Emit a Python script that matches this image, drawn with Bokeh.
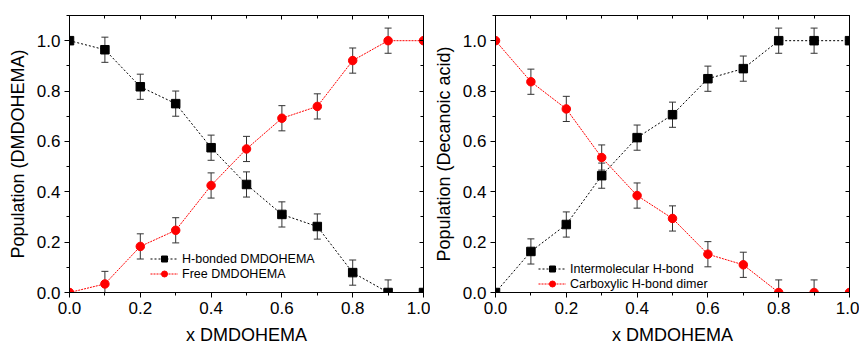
from bokeh.plotting import figure
from bokeh.layouts import row
from bokeh.models import (ColumnDataSource, Whisker, TeeHead, LinearAxis, SingleIntervalTicker,
                          PrintfTickFormatter, Range1d, Legend, LegendItem)
from bokeh.embed import file_html
from bokeh.resources import INLINE

x_vals = [0.0, 0.1, 0.2, 0.3, 0.4, 0.5, 0.6, 0.7, 0.8, 0.9, 1.0]

# Left panel: DMDOHEMA populations
hbonded = [1.0, 0.964, 0.817, 0.750, 0.575, 0.429, 0.310, 0.262, 0.079, 0.0, 0.0]
free = [0.0, 0.034, 0.183, 0.247, 0.425, 0.570, 0.692, 0.739, 0.921, 1.0, 1.0]
hbonded_err = [0, 0.05, 0.05, 0.05, 0.05, 0.05, 0.05, 0.05, 0.05, 0.05, 0]
free_err = [0, 0.05, 0.05, 0.05, 0.05, 0.05, 0.05, 0.05, 0.05, 0.05, 0]

# Right panel: Decanoic acid populations
intermolecular = [0.0, 0.163, 0.270, 0.464, 0.615, 0.706, 0.849, 0.889, 1.0, 1.0, 1.0]
carboxylic = [1.0, 0.837, 0.729, 0.536, 0.385, 0.294, 0.152, 0.110, 0.0, 0.0, 0.0]
intermolecular_err = [0, 0.05, 0.05, 0.05, 0.05, 0.05, 0.05, 0.05, 0.05, 0.05, 0]
carboxylic_err = [0, 0.05, 0.05, 0.05, 0.05, 0.05, 0.05, 0.05, 0.05, 0.05, 0]

x_title = "x DMDOHEMA"
left_ytitle = "Population (DMDOHEMA)"
right_ytitle = "Population (Decanoic acid)"
left_labels = ["H-bonded DMDOHEMA", "Free DMDOHEMA"]
right_labels = ["Intermolecular H-bond", "Carboxylic H-bond dimer"]

FONT = "Liberation Sans"
ERR_COLOR = "#333333"


def style_axis(ax, mirror=False):
    ax.ticker = SingleIntervalTicker(interval=0.2, num_minor_ticks=2)
    ax.axis_line_color = "black"
    ax.major_tick_line_color = "black"
    ax.minor_tick_line_color = "black"
    if mirror:
        ax.major_tick_in = 4
        ax.major_tick_out = 0
        ax.minor_tick_in = 3
        ax.minor_tick_out = 0
        ax.major_label_text_font_size = "0px"
        ax.major_label_standoff = 0
        ax.major_label_text_alpha = 0
    else:
        ax.major_tick_in = 0
        ax.major_tick_out = 5
        ax.minor_tick_in = 0
        ax.minor_tick_out = 3
        ax.formatter = PrintfTickFormatter(format="%.1f")
        ax.major_label_text_font = FONT
        ax.major_label_text_font_size = "17px"
        ax.major_label_text_color = "black"
        ax.axis_label_text_font = FONT
        ax.axis_label_text_font_size = "18px"
        ax.axis_label_text_font_style = "normal"
        ax.axis_label_text_color = "black"


def add_series(p, xs, ys, errs, color, marker, dash):
    src = ColumnDataSource(dict(x=xs, y=ys))
    ex = [x for x, e in zip(xs, errs) if e > 0]
    lo = [y - e for y, e in zip(ys, errs) if e > 0]
    hi = [y + e for y, e in zip(ys, errs) if e > 0]
    esrc = ColumnDataSource(dict(x=ex, lower=lo, upper=hi))
    w = Whisker(source=esrc, base="x", lower="lower", upper="upper",
                line_color=ERR_COLOR, line_width=1,
                upper_head=TeeHead(size=7, line_color=ERR_COLOR, line_width=1),
                lower_head=TeeHead(size=7, line_color=ERR_COLOR, line_width=1))
    p.add_layout(w)
    ln = p.line("x", "y", source=src, line_color=color, line_width=1, line_dash=dash)
    sc = p.scatter("x", "y", source=src, marker=marker, size=8.5, fill_color=color,
                   line_color=color)
    return [ln, sc]


def make_panel(width, left_border, right_border, ytitle, s1, s2, e1, e2, labels, loc):
    p = figure(width=width, height=347, output_backend="svg", toolbar_location=None,
               x_range=Range1d(0, 1.0), y_range=Range1d(0, 1.1),
               min_border_left=left_border, min_border_right=right_border,
               min_border_top=15, min_border_bottom=55)
    p.xgrid.visible = False
    p.ygrid.visible = False
    p.outline_line_color = "black"
    p.outline_line_width = 1
    p.background_fill_color = "white"
    p.border_fill_color = "white"
    style_axis(p.xaxis[0])
    style_axis(p.yaxis[0])
    p.xaxis[0].axis_label = x_title
    p.xaxis[0].major_label_standoff = 4
    p.xaxis[0].axis_label_standoff = 8
    p.yaxis[0].axis_label = ytitle
    p.yaxis[0].major_label_standoff = 4
    p.yaxis[0].axis_label_standoff = 6
    top = LinearAxis()
    style_axis(top, mirror=True)
    right = LinearAxis()
    style_axis(right, mirror=True)
    p.add_layout(top, "above")
    p.add_layout(right, "right")

    r1 = add_series(p, x_vals, s1, e1, "black", "square", "2 2")
    r2 = add_series(p, x_vals, s2, e2, "red", "circle", "2 1")
    legend = Legend(items=[LegendItem(label=labels[0], renderers=r1),
                           LegendItem(label=labels[1], renderers=r2)],
                    location=loc, padding=0, margin=0, spacing=0,
                    glyph_width=28, glyph_height=15, label_height=15,
                    label_standoff=4, label_text_font=FONT,
                    label_text_font_size="12.5px", label_text_color="black",
                    background_fill_alpha=0, border_line_color=None)
    p.add_layout(legend, "center")
    return p


left = make_panel(430, 69, 7, left_ytitle, hbonded, free, hbonded_err, free_err,
                  left_labels, (81, 11))
rightp = make_panel(429, 64, 10, right_ytitle, intermolecular, carboxylic,
                    intermolecular_err, carboxylic_err, right_labels, (43, 1))

layout = row(left, rightp)
open("out.html", "w").write(file_html(layout, INLINE))
